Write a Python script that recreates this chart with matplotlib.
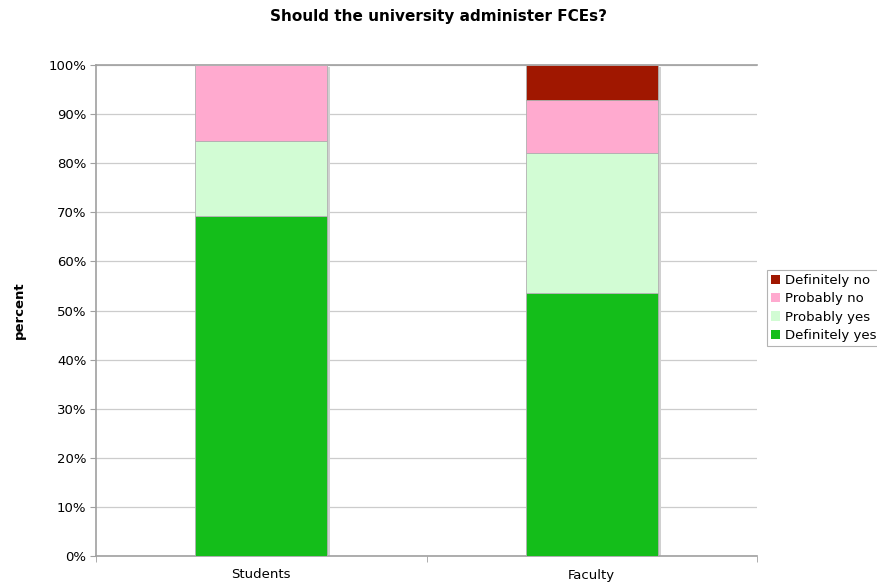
import matplotlib
matplotlib.use("Agg")
import matplotlib.pyplot as plt
import matplotlib.transforms as mtransforms
from matplotlib.ticker import FixedLocator, PercentFormatter

groups = ["Students", "Faculty"]
series_names = ["Definitely yes", "Probably yes", "Probably no", "Definitely no"]
definitely_yes = [69.23, 53.57]
probably_yes = [15.38, 28.57]
probably_no = [15.38, 10.71]
definitely_no = [0.0, 7.14]
colors = ["#14be1a", "#d2fcd4", "#ffaacf", "#a01700"]

fig = plt.figure(figsize=(8.77, 5.86), dpi=100)
ax = fig.add_axes([96 / 877, 1 - 556 / 586, 661 / 877, 491 / 586])

x = list(range(len(groups)))
width = 0.4
stack = [definitely_yes, probably_yes, probably_no, definitely_no]

# drop shadow behind each bar
totals = [sum(v) for v in zip(*stack)]
shadow_tr = mtransforms.offset_copy(ax.transData, fig=fig, x=3, y=-2, units="dots")
ax.bar(x, totals, width, color="#d0d0d0", transform=shadow_tr, zorder=2, linewidth=0)

bottom = [0.0, 0.0]
for name, vals, c in zip(series_names, stack, colors):
    ax.bar(x, vals, width, bottom=bottom, color=c, label=name, zorder=3,
           edgecolor="#b0b0b0", linewidth=0.6)
    bottom = [b + v for b, v in zip(bottom, vals)]

ax.set_xlim(-0.5, 1.5)
ax.set_ylim(0, 100)
ax.yaxis.set_major_locator(FixedLocator(range(0, 101, 10)))
ax.yaxis.set_major_formatter(PercentFormatter(decimals=0))
ax.grid(axis="y", color="#cccccc", linewidth=0.9, zorder=0)
ax.set_axisbelow(True)

ax.set_xticks(x)
ax.set_xticklabels(groups)
ax.set_xticks([-0.5, 0.5, 1.5], minor=True)
ax.tick_params(axis="x", which="major", length=0, pad=9, labelsize=9.5)
ax.tick_params(axis="x", which="minor", length=4, color="#a0a0a0", direction="out")
ax.tick_params(axis="y", length=4, color="#a0a0a0", labelsize=9.5, pad=3)

ax.spines["right"].set_visible(False)
for side in ["left", "bottom", "top"]:
    ax.spines[side].set_color("#a0a0a0")
    ax.spines[side].set_linewidth(1.2)

ax.set_ylabel("percent", fontweight="bold", fontsize=9.5, labelpad=16)
fig.suptitle("Should the university administer FCEs?", fontweight="bold",
             fontsize=11, y=1 - 16 / 586, va="center")

handles, labels = ax.get_legend_handles_labels()
leg = fig.legend(handles[::-1], labels[::-1], loc="upper left",
                 bbox_to_anchor=(767 / 877, 1 - 270 / 586), frameon=True,
                 fancybox=False, fontsize=9.5, handlelength=0.7, handleheight=0.7,
                 handletextpad=0.35, labelspacing=0.4, borderpad=0.3,
                 borderaxespad=0)
leg.get_frame().set_edgecolor("#a0a0a0")
leg.get_frame().set_linewidth(0.8)
for h in leg.legend_handles:
    h.set_edgecolor("none")

fig.savefig("out.png", dpi=100)
